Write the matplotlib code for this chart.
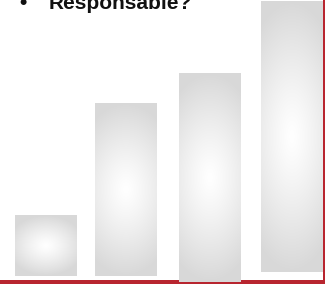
import numpy as np
import matplotlib
matplotlib.use("Agg")
import matplotlib.pyplot as plt
from matplotlib.patches import Rectangle

# Data (pixel-scale units, y measured upward from bottom of figure)
bar_lefts = [15, 95, 179, 261]
bar_width = 62
bar_bottoms = [8, 8, 2, 12]
bar_heights = [61, 173, 209, 271]
title_text = "Responsable?"

fig = plt.figure(figsize=(3.25, 2.84), dpi=100)
ax = fig.add_axes([0, 0, 1, 1])
ax.set_xlim(0, 325)
ax.set_ylim(0, 284)
ax.axis("off")

def grad(w, h, square):
    nx, ny = max(int(w), 2), max(int(h), 2)
    x = np.linspace(-1, 1, nx)
    y = np.linspace(-1, 1, ny)
    X, Y = np.meshgrid(x, y)
    wx = 0.6 if square else 0.3
    r = np.sqrt(wx * X**2 + Y**2)
    r = np.clip(r, 0, 1)
    v = 255 - (255 - 216) * r**1.2
    img = np.stack([v, v, v], axis=-1) / 255.0
    return img

for left, b, h in zip(bar_lefts, bar_bottoms, bar_heights):
    img = grad(bar_width, h, h < 1.5 * bar_width)
    ax.imshow(img, extent=(left, left + bar_width, b, b + h),
              aspect="auto", interpolation="bilinear", zorder=2)

red = "#b8252f"
ax.add_patch(Rectangle((0, 0), 325, 4, facecolor=red, edgecolor="none", zorder=1))
ax.add_patch(Rectangle((323, 0), 2, 284, facecolor=red, edgecolor="none", zorder=1))

ax.text(19, 284 - 9, "\u2022", fontsize=15, fontweight="bold",
        family="Liberation Sans", va="baseline", ha="left", color="#111111")
ax.text(49, 284 - 9, title_text, fontsize=15, fontweight="bold",
        family="Liberation Sans", va="baseline", ha="left", color="#111111")

ax.set_xlim(0, 325)
ax.set_ylim(0, 284)
fig.savefig("out.png", dpi=100)
